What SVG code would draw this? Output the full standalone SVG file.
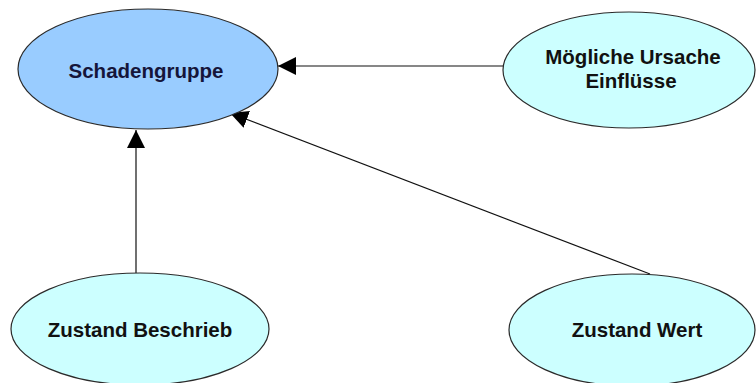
<svg xmlns="http://www.w3.org/2000/svg" width="756" height="383" viewBox="0 0 756 383">
<style>
.node{stroke:#2a2a2a;stroke-width:1.2}
.main{fill:#99ccff}
.sub{fill:#ccffff}
.lbl{font-family:"Liberation Sans",Arial,sans-serif;font-weight:bold;font-size:20.5px;text-anchor:middle;fill:#111}
.edge{stroke:#111;stroke-width:1.2;fill:none;marker-end:url(#arr)}
</style>
<defs>
<marker id="arr" markerUnits="userSpaceOnUse" viewBox="0 0 18 18" refX="18" refY="9" markerWidth="18" markerHeight="18" orient="auto">
<path d="M0,0 L18,9 L0,18 z" fill="#000"/>
</marker>
</defs>
<rect width="756" height="383" fill="#fff"/>
<g id="connectors">
<line class="edge" x1="503" y1="66" x2="278" y2="66"/>
<line class="edge" x1="136" y1="273" x2="136" y2="130"/>
<line class="edge" x1="650" y1="274" x2="230" y2="113"/>
</g>
<g id="schadengruppe">
<ellipse class="node main" cx="148" cy="69" rx="130" ry="60"/>
<text class="lbl" x="146" y="78" style="fill:#15153a">Schadengruppe</text>
</g>
<g id="ursache">
<ellipse class="node sub" cx="629" cy="70" rx="126" ry="58"/>
<text class="lbl" x="633" y="64">Mögliche Ursache</text>
<text class="lbl" x="631" y="88">Einflüsse</text>
</g>
<g id="beschrieb">
<ellipse class="node sub" cx="140" cy="329" rx="129" ry="56"/>
<text class="lbl" x="140" y="337">Zustand Beschrieb</text>
</g>
<g id="wert">
<ellipse class="node sub" cx="632" cy="330" rx="123" ry="56"/>
<text class="lbl" x="637" y="337">Zustand Wert</text>
</g>
</svg>
